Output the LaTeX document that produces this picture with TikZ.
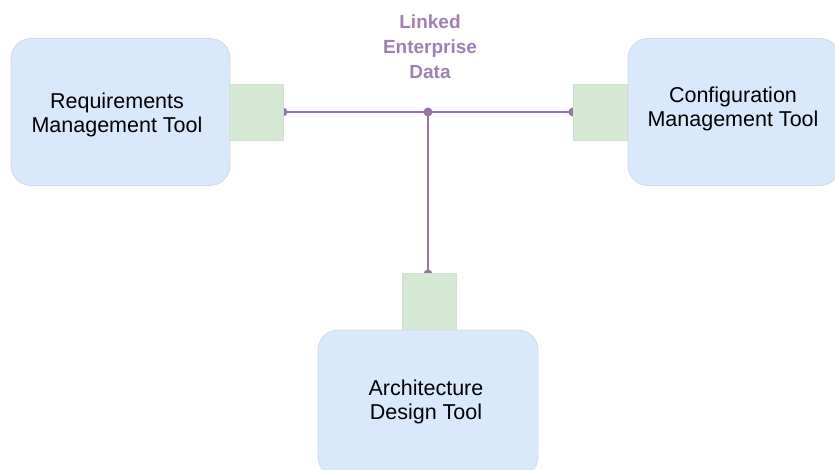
\documentclass[tikz,border=0pt]{standalone}
\usepackage{fontspec}
\setmainfont{Liberation Sans}
\definecolor{toolfill}{HTML}{DAE8FC}
\definecolor{toolline}{HTML}{D3DAE4}
\definecolor{portfill}{HTML}{D5E8D4}
\definecolor{portline}{HTML}{D6DDD6}
\definecolor{linkline}{HTML}{9673A6}
\definecolor{linktext}{HTML}{A07FB2}
\begin{document}
\begin{tikzpicture}[x=1pt,y=-1pt,
  tool/.style={draw=toolline,line width=0.8pt,fill=toolfill,rounded corners=20pt,
    minimum height=147pt,inner sep=0pt},
  tooltext/.style={align=center,inner sep=0pt,font=\fontsize{21.5}{24}\selectfont},
  port/.style={draw=portline,line width=0.8pt,fill=portfill,minimum width=54pt,
    minimum height=56pt,inner sep=0pt},
  link/.style={draw=linkline,line width=1.6pt},
  dot/.style={circle,fill=linkline,inner sep=0pt,minimum size=9pt}]
\useasboundingbox (0,0) rectangle (835,470);
\begin{scope}
\clip (0,0) rectangle (835,470);
% tool boxes
\node[tool,minimum width=219pt] (req) at (120.5,112) {};
\node[tool,minimum width=212pt] (cfg) at (734,112) {};
\node[tool,minimum width=220pt] (arc) at (428,403.5) {};
\node[tooltext] (reqt) at (117,115) {Requirements\\Management Tool};
\node[tooltext] (cfgt) at (733,109) {Configuration\\Management Tool};
\node[tooltext] (arct) at (426,402) {Architecture\\Design Tool};
% shared data link
\coordinate (hub) at (428,112);
\coordinate (pl) at (283,112);
\coordinate (pr) at (573,112);
\coordinate (pb) at (428,274);
\draw[link] (pl) -- (pr);
\draw[link] (hub) -- (pb);
\node[dot] (hubdot) at (hub) {};
\node[dot] (pldot) at (pl) {};
\node[dot] (prdot) at (pr) {};
\node[dot] (pbdot) at (pb) {};
% ports on the tools
\node[port] (portreq) at (256.5,112) {};
\node[port] (portcfg) at (600,112) {};
\node[port] (portarc) at (429,301.5) {};
% label
\node[text=linktext,font=\bfseries\fontsize{19}{25}\selectfont,align=center,inner sep=0pt]
  (lbl) at (430,47) {Linked\\Enterprise\\Data};
\end{scope}
\end{tikzpicture}
\end{document}
